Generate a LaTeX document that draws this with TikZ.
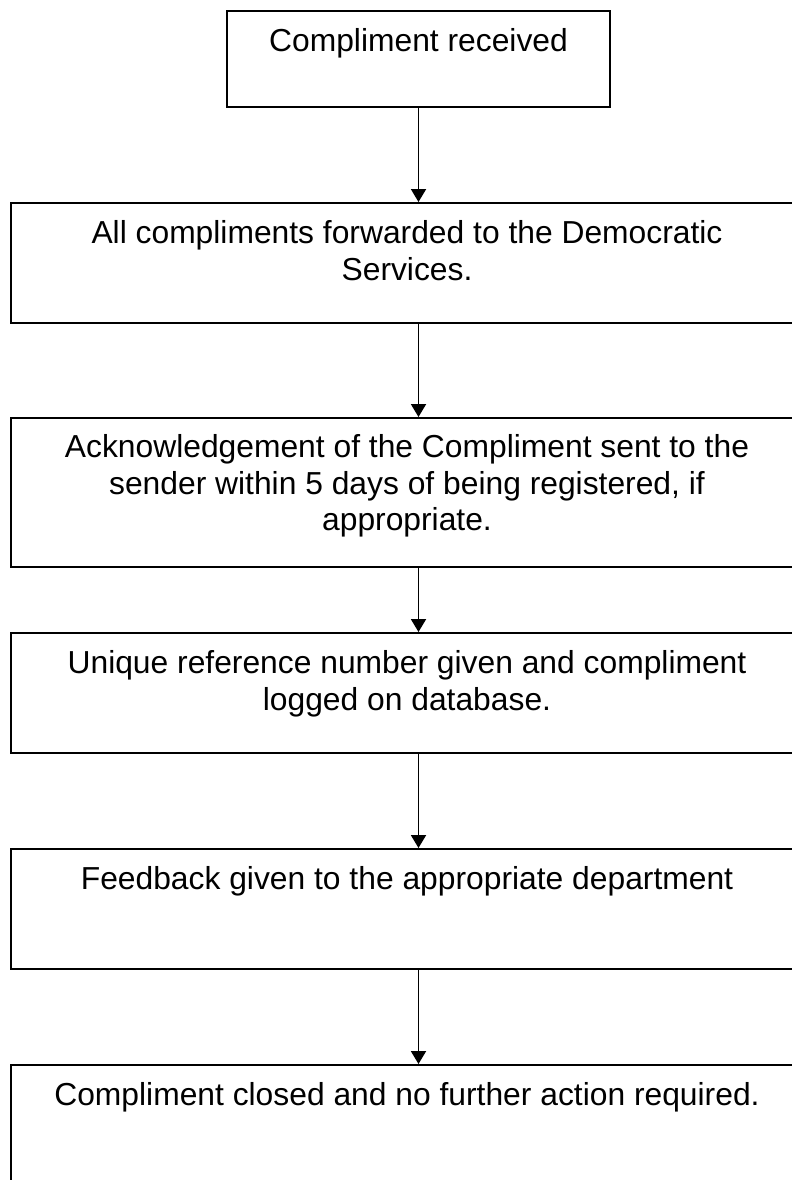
\documentclass[tikz,border=0pt]{standalone}
\usepackage{fontspec}
\setmainfont{Liberation Sans}
\usetikzlibrary{arrows.meta}
\begin{document}
\begin{tikzpicture}[x=1pt,y=-1pt,
  box/.style={draw, line width=1.8pt, inner sep=0pt, anchor=north},
  wide/.style={box, minimum width=815pt},
  txt/.style={anchor=north, inner sep=0pt, align=center, font=\fontsize{31.8}{36.8}\selectfont},
  arr/.style={line width=1.9pt, -{Triangle[width=15pt,length=13pt]}}]
\useasboundingbox (0,0) rectangle (792,1180);
\clip (0,0) rectangle (792,1180);
\node[box, minimum width=383pt, minimum height=96pt] (b1) at (418.5,10) {};
\node[wide, minimum height=120pt] (b2) at (418.5,202) {};
\node[wide, minimum height=149pt] (b3) at (418.5,417) {};
\node[wide, minimum height=120pt] (b4) at (418.5,632) {};
\node[wide, minimum height=120pt] (b5) at (418.5,848) {};
\node[wide, minimum height=200pt] (b6) at (418.5,1064) {};
\node[txt] (t1) at (418.5,28) {Compliment received};
\node[txt] (t2) at (407,220) {All compliments forwarded to the Democratic\\Services.};
\node[txt] (t3) at (407,434) {Acknowledgement of the Compliment sent to the\\sender within 5 days of being registered, if\\appropriate.};
\node[txt] (t4) at (407,650) {Unique reference number given and compliment\\logged on database.};
\node[txt] (t5) at (407,866) {Feedback given to the appropriate department};
\node[txt] (t6) at (407,1082) {Compliment closed and no further action required.};
\draw[arr] (b1.south) -- (b2.north);
\draw[arr] (b2.south) -- (b3.north);
\draw[arr] (b3.south) -- (b4.north);
\draw[arr] (b4.south) -- (b5.north);
\draw[arr] (b5.south) -- (b6.north);
\end{tikzpicture}
\end{document}
